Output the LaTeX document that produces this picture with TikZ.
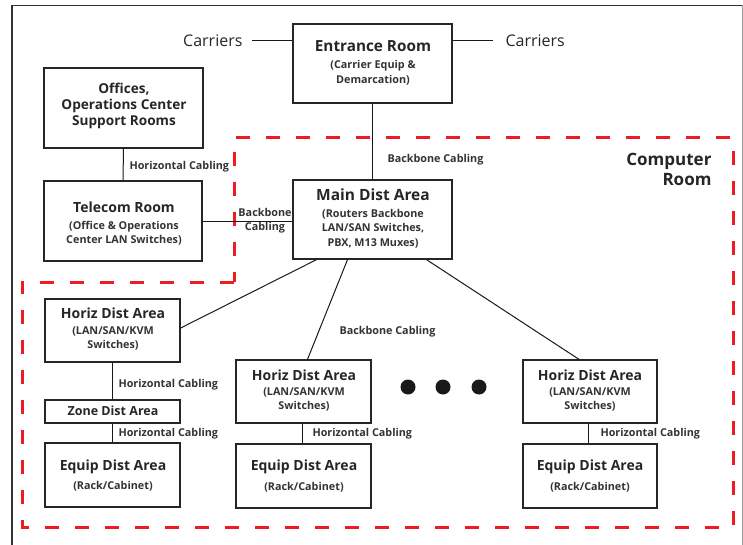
\documentclass[tikz,border=0pt]{standalone}
\usepackage{fontspec}
\setmainfont{Open Sans}
\begin{document}
\begin{tikzpicture}[x=1pt,y=-1pt,
  box/.style={draw=black!85,line width=1.3pt,inner sep=0pt},
  conn/.style={draw=black!90,line width=1pt},
  roomline/.style={draw={rgb,255:red,237;green,28;blue,36},line width=3pt,dash pattern=on 14pt off 16pt},
  ttl/.style={font=\fontsize{14}{15}\selectfont\bfseries,text=black!85},
  sub/.style={font=\fontsize{10.8}{14.5}\selectfont\bfseries,text=black!80,align=center},
  lbl/.style={font=\fontsize{10.8}{11}\selectfont\bfseries,text=black!80},
  carr/.style={font=\fontsize{16}{17}\selectfont,text=black!85}]
\useasboundingbox (0,0) rectangle (743,545);
% outer frame
\draw[black!80,line width=1.2pt] (12,548) -- (12,5.5) -- (742,5.5);
\draw[black!40,line width=1pt] (742,5.5) -- (742,548);
% computer room boundary
\draw[roomline] (234,282) -- (22,282) -- (22,527) -- (733,527) -- (733,138) -- (234,138) -- cycle;
\node[font=\fontsize{17}{20}\selectfont\bfseries,text=black!85,align=right,anchor=north east] (cr) at (715,150) {Computer\\Room};
% boxes
\node[box,minimum width=159pt,minimum height=79pt] (er) at (372.5,63.5) {};
\node[ttl,font=\fontsize{15.3}{16}\selectfont\bfseries] (ert) at (373,46) {Entrance Room};
\node[sub] (ers) at (373,73) {(Carrier Equip \&\\Demarcation)};
\node[carr,anchor=east] (c1) at (246,41) {Carriers};
\node[carr,anchor=west] (c2) at (502,41) {Carriers};
\node[box,minimum width=159pt,minimum height=80pt] (of) at (123.5,108) {};
\node[ttl,font=\fontsize{13.6}{16}\selectfont\bfseries,align=center] (oft) at (124,106) {Offices,\\Operations Center\\Support Rooms};
\node[box,minimum width=158pt,minimum height=80pt] (tr) at (123,221) {};
\node[ttl] (trt) at (124,207) {Telecom Room};
\node[sub] (trs) at (124,233) {(Office \& Operations\\Center LAN Switches)};
\node[box,minimum width=159pt,minimum height=79pt] (md) at (372.5,219.5) {};
\node[ttl,font=\fontsize{15.5}{16}\selectfont\bfseries] (mdt) at (373,195) {Main Dist Area};
\node[sub] (mds) at (373,228.5) {(Routers Backbone\\LAN/SAN Switches,\\PBX, M13 Muxes)};
% left column
\node[box,minimum width=135pt,minimum height=63pt] (h1) at (112.5,330.5) {};
\node[ttl] (h1t) at (113,313) {Horiz Dist Area};
\node[sub] (h1s) at (113,338.5) {(LAN/SAN/KVM\\Switches)};
\node[box,minimum width=135pt,minimum height=23pt] (zd) at (112.5,411.5) {};
\node[ttl,font=\fontsize{12.5}{13}\selectfont\bfseries] (zdt) at (113,411) {Zone Dist Area};
\node[box,minimum width=135pt,minimum height=64pt] (e1) at (112.5,475) {};
\node[ttl] (e1t) at (113,467) {Equip Dist Area};
\node[sub] (e1s) at (113,486) {(Rack/Cabinet)};
% middle column
\node[box,minimum width=135pt,minimum height=63pt] (h2) at (303.5,391.5) {};
\node[ttl] (h2t) at (304,375) {Horiz Dist Area};
\node[sub] (h2s) at (304,399.5) {(LAN/SAN/KVM\\Switches)};
\node[box,minimum width=135pt,minimum height=64pt] (e2) at (303.5,476) {};
\node[ttl] (e2t) at (304,467) {Equip Dist Area};
\node[sub] (e2s) at (304,487) {(Rack/Cabinet)};
% right column
\node[box,minimum width=134pt,minimum height=63pt] (h3) at (590,391.5) {};
\node[ttl] (h3t) at (590,375) {Horiz Dist Area};
\node[sub] (h3s) at (590,399.5) {(LAN/SAN/KVM\\Switches)};
\node[box,minimum width=134pt,minimum height=64pt] (e3) at (590,476) {};
\node[ttl] (e3t) at (590,467) {Equip Dist Area};
\node[sub] (e3s) at (590,487) {(Rack/Cabinet)};
% dots
\fill[black!90] (408,387) circle (7.5pt) (443,387) circle (7.5pt) (479,387) circle (7.5pt);
% connectors
\draw[conn] (c1.east) ++(6,0) coordinate (c1e) -- (er.west |- c1e);
\draw[conn] (er.east |- c2.west) -- ([xshift=-9pt]c2.west);
\draw[conn] (er.south) -- (md.north);
\draw[conn] (of.south) -- (tr.north);
\draw[conn] (tr.east) -- (tr.east -| md.west);
\draw[conn] ([xshift=-56pt]md.south) -- ([yshift=2.5pt]h1.east);
\draw[conn] ([xshift=-25pt]md.south) -- ([xshift=4pt]h2.north);
\draw[conn] ([xshift=54pt]md.south) -- ([xshift=-11pt]h3.north);
\draw[conn] (h1.south) -- (zd.north);
\draw[conn] (zd.south) -- (e1.north);
\draw[conn] ([xshift=-1.5pt]h2.south) -- ([xshift=-1.5pt]e2.north);
\draw[conn] ([xshift=-2pt]h3.south) -- ([xshift=-2pt]e3.north);
% labels
\node[lbl,anchor=west] (l1) at (384,160) {Backbone Cabling};
\node[lbl,anchor=west] (l2) at (126,167) {Horizontal Cabling};
\node[lbl,align=center,font=\fontsize{10.8}{14}\selectfont\bfseries] (l3) at (265,221) {Backbone\\Cabling};
\node[lbl,anchor=west] (l4) at (336,332) {Backbone Cabling};
\node[lbl,anchor=west] (l5) at (115,385) {Horizontal Cabling};
\node[lbl,anchor=west] (l6) at (115,434) {Horizontal Cabling};
\node[lbl,anchor=west] (l7) at (309,434) {Horizontal Cabling};
\node[lbl,anchor=west] (l8) at (597,434) {Horizontal Cabling};
\end{tikzpicture}
\end{document}
